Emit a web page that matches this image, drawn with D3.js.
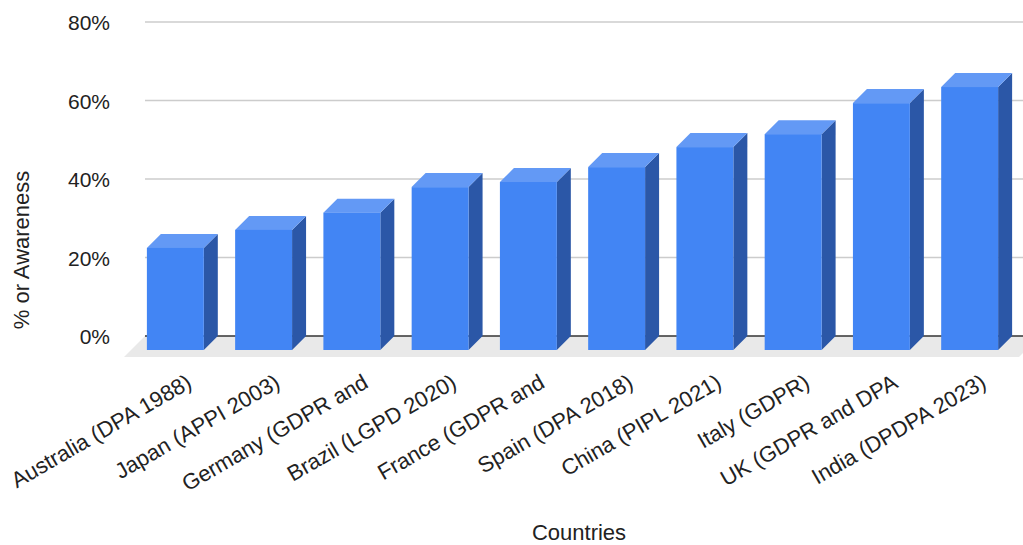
<!DOCTYPE html>
<html><head><meta charset="utf-8">
<script src="https://cdn.jsdelivr.net/npm/d3@7/dist/d3.min.js"></script>
<style>body{margin:0;background:#fff}svg{display:block;font-family:"Liberation Sans",Arial,sans-serif}</style>
</head><body>
<svg id="c" width="1023" height="545"></svg>
<script>
const categories = ["Australia (DPA 1988)","Japan (APPI 2003)","Germany (GDPR and","Brazil (LGPD 2020)","France (GDPR and","Spain (DPA 2018)","China (PIPL 2021)","Italy (GDPR)","UK (GDPR and DPA","India (DPDPA 2023)"];
const awareness = [26, 30.6, 35, 41.5, 42.8, 46.6, 51.7, 55, 62.9, 67];
const yTicks = [0, 20, 40, 60, 80];
const yTitle = "% or Awareness";
const xTitle = "Countries";

const svg = d3.select("#c");
const depth = 14;
const x = d3.scaleBand().domain(categories).range([145, 1028]).paddingInner(0.355).paddingOuter(0.18);
const y = d3.scaleLinear().domain([0, 80]).range([336, 22]);

// gridlines
svg.append("g").selectAll("line").data(yTicks.filter(d => d > 0)).join("line")
  .attr("x1", 145).attr("x2", 1023).attr("y1", d => y(d)).attr("y2", d => y(d))
  .attr("stroke", "#cccccc").attr("stroke-width", 1.5);

// floor
const fd = 21;
svg.append("path")
  .attr("d", `M145,${y(0)} L1040,${y(0)} L${1040 - fd},${y(0) + fd} L${145 - fd},${y(0) + fd} Z`)
  .attr("fill", "#e9e9e9");
svg.append("line").attr("x1", 145).attr("x2", 1023).attr("y1", y(0)).attr("y2", y(0))
  .attr("stroke", "#333").attr("stroke-width", 1.5);

// y tick labels
svg.append("g").selectAll("text").data(yTicks).join("text")
  .attr("x", 110).attr("y", d => y(d)).attr("dy", "0.4em")
  .attr("text-anchor", "end").attr("font-size", 21).attr("fill", "#222")
  .text(d => d + "%");

// bars
const bars = svg.append("g").selectAll("g").data(categories.map((c, i) => ({c, v: awareness[i]}))).join("g");
bars.each(function(d) {
  const g = d3.select(this);
  const bx = x(d.c), bw = x.bandwidth();
  const yt = y(d.v), yb = y(0);
  const fx = bx - depth, fyT = yt + depth, fyB = yb + depth;
  g.append("path").attr("d", `M${fx + bw},${fyT} L${bx + bw},${yt} L${bx + bw},${yb} L${fx + bw},${fyB} Z`).attr("fill", "#2b57a7");
  g.append("path").attr("d", `M${fx},${fyT} L${bx},${yt} L${bx + bw},${yt} L${fx + bw},${fyT} Z`).attr("fill", "#6399f5");
  g.append("rect").attr("x", fx).attr("y", fyT).attr("width", bw).attr("height", fyB - fyT).attr("fill", "#4285f4");
});

// x labels
svg.append("g").selectAll("text").data(categories).join("text")
  .attr("transform", d => `translate(${x(d) - depth + x.bandwidth() / 2 + 14},${380}) rotate(-30)`)
  .attr("text-anchor", "end").attr("font-size", 22).attr("fill", "#222")
  .attr("dy", "0.35em")
  .text(d => d);

// axis titles
svg.append("text").attr("transform", "translate(29,250) rotate(-90)")
  .attr("text-anchor", "middle").attr("font-size", 22).attr("fill", "#222").text(yTitle);
svg.append("text").attr("x", 579).attr("y", 540)
  .attr("text-anchor", "middle").attr("font-size", 22).attr("fill", "#222").text(xTitle);
</script>
</body></html>
